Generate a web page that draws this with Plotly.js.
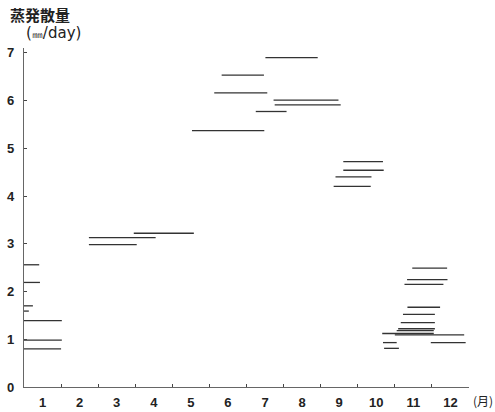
<!DOCTYPE html>
<html>
<head>
<meta charset="utf-8">
<script src="https://cdn.plot.ly/plotly-3.0.1.min.js"></script>
<style>html,body{margin:0;padding:0;background:#fff;}#chart{width:495px;height:412px;}</style>
</head>
<body>
<div id="chart"></div>
<script>
// Month ticks (x in months elapsed from Jan 1)
const monthLabels = ['1','2','3','4','5','6','7','8','9','10','11','12'];
const monthCenters = [0.5,1.5,2.5,3.5,4.5,5.5,6.5,7.5,8.5,9.5,10.5,11.5];
const monthBounds = [1,2,3,4,5,6,7,8,9,10,11];
const yTicks = [0,1,2,3,4,5,6,7];

// Evapotranspiration periods: start month, end month, value (mm/day)
const segStart = [0,0,0,0,0,0,0,
  2.96,1.75,1.75,
  6.51,5.33,5.13,6.73,6.76,6.25,4.53,
  8.61,8.61,8.40,8.35,
  10.47,10.33,10.26,10.34,10.22,10.16,10.09,10.05,9.66,10.00,9.68,10.97,9.71];
const segEnd = [0.41,0.43,0.24,0.13,1.02,1.02,1.00,
  4.58,3.55,3.04,
  7.92,6.47,6.56,8.48,8.54,7.08,6.48,
  9.68,9.70,9.37,9.35,
  11.41,11.42,11.31,11.22,11.08,11.08,11.08,11.05,11.05,11.87,10.05,11.91,10.11];
const segValue = [2.56,2.19,1.70,1.59,1.39,0.98,0.80,
  3.22,3.13,2.98,
  6.90,6.53,6.16,6.01,5.91,5.77,5.37,
  4.72,4.54,4.40,4.20,
  2.49,2.25,2.15,1.67,1.52,1.35,1.22,1.18,1.12,1.09,0.93,0.93,0.81];

const xs = [], ys = [];
for (let i = 0; i < segValue.length; i++) {
  xs.push(segStart[i], segEnd[i], null);
  ys.push(segValue[i], segValue[i], null);
}

const trace = {
  x: xs, y: ys, type: 'scatter', mode: 'lines',
  line: {color: '#333', width: 1.3},
  connectgaps: false, hoverinfo: 'skip', showlegend: false
};

const numFont = {family: 'Liberation Sans, Arial, sans-serif', size: 13, color: '#222', weight: 'bold'};

const layout = {
  width: 495, height: 412,
  margin: {l: 24, r: 26, t: 48, b: 25, pad: 0},
  paper_bgcolor: '#fff', plot_bgcolor: '#fff',
  showlegend: false,
  xaxis: {
    range: [0, 12], showgrid: false, zeroline: false,
    showline: true, linecolor: '#666', linewidth: 1.2,
    tickmode: 'array', tickvals: monthCenters, ticktext: monthLabels,
    ticks: '', ticklabelstandoff: 3,
    tickfont: numFont,
    minor: {tickmode: 'array', tickvals: monthBounds, ticks: 'inside', ticklen: 3, tickcolor: '#444', tickwidth: 1}
  },
  yaxis: {
    range: [0, 7.1], showgrid: false, zeroline: false,
    showline: true, linecolor: '#666', linewidth: 1.2,
    tickmode: 'array', tickvals: yTicks, ticktext: yTicks.map(String),
    ticks: 'inside', ticklen: 3, tickcolor: '#444',
    ticklabelstandoff: 6,
    tickfont: numFont
  },
  annotations: [
    {xref: 'paper', yref: 'paper', x: -0.036, y: 1.10, xanchor: 'left', yanchor: 'middle',
     text: '<b>蒸発散量</b>', showarrow: false,
     font: {family: 'Noto Sans CJK JP, sans-serif', size: 15, color: '#222'}},
    {xref: 'paper', yref: 'paper', x: 0.0, y: 1.044, xanchor: 'left', yanchor: 'middle',
     text: '(<span style="font-size:11px">㎜</span>/day)', showarrow: false,
     font: {family: 'DejaVu Sans, sans-serif', size: 15, color: '#222'}},
    {xref: 'paper', yref: 'paper', x: 1.004, y: -0.041, xanchor: 'left', yanchor: 'middle',
     text: '(月)', showarrow: false,
     font: {family: 'Noto Sans CJK JP, sans-serif', size: 12, color: '#222'}}
  ]
};

Plotly.newPlot('chart', [trace], layout, {staticPlot: true, displayModeBar: false});
</script>
</body>
</html>
